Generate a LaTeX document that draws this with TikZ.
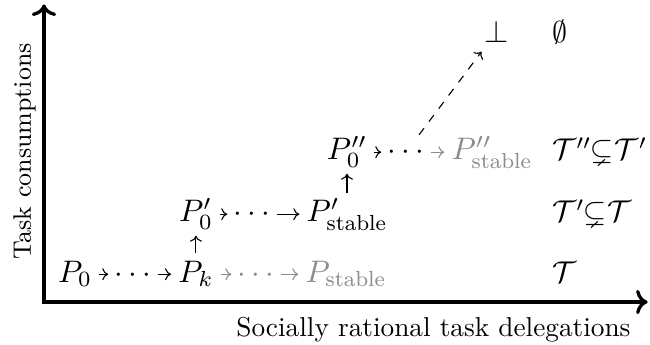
\RequirePackage{fix-cm}
\documentclass[tikz,border=0pt]{standalone}
\usepackage{amsmath,amssymb}
\usepackage{tikz}
\usetikzlibrary{arrows.meta,positioning}

\newcommand{\spreaddots}{{\cdot}\mkern3mu{\cdot}\mkern3mu{\cdot}}

\begin{document}
\begin{tikzpicture}[
  state/.style={anchor=base, inner xsep=2.5pt, inner ysep=3.33pt,
    text height=7.2pt, text depth=1.5pt, font=\fontsize{11.4}{13.7}\selectfont},
  gap/.style={anchor=base, inner xsep=2.2pt, inner ysep=3.33pt,
    text height=5.7pt, text depth=0pt, font=\fontsize{11.4}{13.7}\selectfont},
  faded/.style={black!45},
  link/.style={-{To[length=2.2pt,width=4.4pt]}},
  setlabel/.style={anchor=base west, inner xsep=1pt, font=\fontsize{11}{13.2}\selectfont}]
\useasboundingbox (-0.566,-0.541) rectangle (7.800,3.887);

\draw[very thick, <->] (0,3.83) -- (0,0) -- (7.77,0);
\node[rotate=90, anchor=base, font=\fontsize{9.25}{11}\selectfont] (ylabel)
  at (-0.167,1.937) {Task consumptions};
\node[anchor=base] (xlabel) at (5.013,-0.450) {Socially rational task delegations};

% first round
\node[state] (p0) at (0.40,0.257) {$P_0$};
\node[gap] (d1) at (1.145,0.257) {$\spreaddots$};
\node[state] (pk) at (1.956,0.257) {$P_k$};
\node[gap, faded] (d2) at (2.729,0.257) {$\spreaddots$};
\node[state, faded] (ps) at (3.887,0.257) {$P_{\text{stable}}$};
\node[setlabel] (t1) at (6.50,0.257) {$\mathcal{T}$};

% second round
\node[state] (q0) at (1.956,1.030) {$P'_0$};
\node[gap] (d3) at (2.677,1.030) {$\spreaddots$};
\node[state] (qs) at (3.900,1.030) {$P'_{\text{stable}}$};
\node[setlabel] (t2) at (6.50,1.030)
  {$\mathcal{T}'\mkern-6mu\subsetneq\mkern-4mu\mathcal{T}$};

% third round
\node[state] (r0) at (3.900,1.828) {$P''_0$};
\node[gap] (d4) at (4.659,1.828) {$\spreaddots$};
\node[state, faded] (rs) at (5.766,1.828) {$P''_{\text{stable}}$};
\node[setlabel] (t3) at (6.50,1.828)
  {$\mathcal{T}''\mkern-6mu\subsetneq\mkern-4mu\mathcal{T}'$};

% no tasks left
\node[anchor=base, font=\fontsize{11.4}{13.7}\selectfont] (bot) at (5.830,3.346) {$\bot$};
\node[setlabel] (t4) at (6.50,3.346) {$\emptyset$};

\draw[link] (p0) -- (d1);
\draw[link] (d1) -- (pk);
\draw[link, faded] (pk) -- (d2);
\draw[link, faded] (d2) -- (ps);
\draw[link] (q0) -- (d3);
\draw[link] (d3) -- (qs);
\draw[link] (r0) -- (d4);
\draw[link, faded] (d4) -- (rs);
\draw[link] (pk) -- (q0);
\draw[link] (qs) -- (r0);
\draw[link, dashed] (d4) -- (bot);
\end{tikzpicture}
\end{document}
